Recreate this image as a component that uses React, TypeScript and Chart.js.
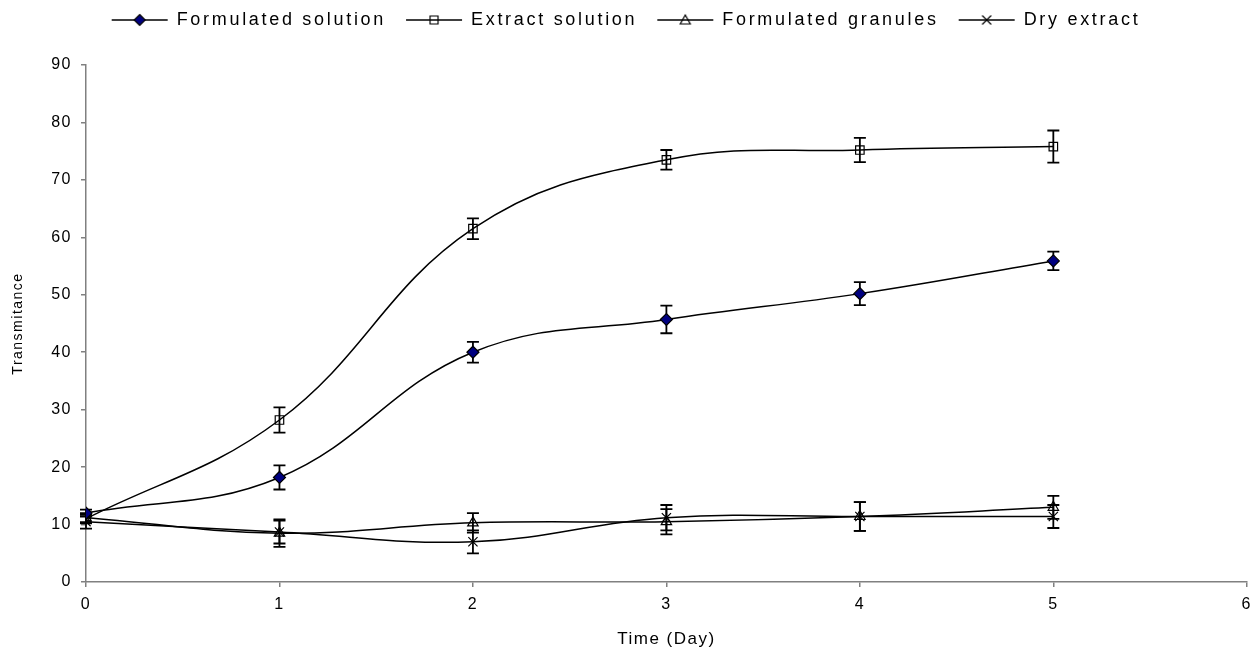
import React, { useEffect, useRef } from 'react';
import { Chart, registerables } from 'chart.js';

Chart.register(...registerables);

// ---- Data ----
const days = [0, 1, 2, 3, 4, 5];
const seriesNames = ['Formulated solution', 'Extract solution', 'Formulated granules', 'Dry extract'];

const formulatedSolution = [12.0, 18.2, 40.0, 45.7, 50.2, 55.9];
const formulatedSolutionErr = [0.6, 2.1, 1.8, 2.4, 2.0, 1.6];

const extractSolution = [11.0, 28.2, 61.5, 73.5, 75.2, 75.8];
const extractSolutionErr = [0.8, 2.2, 1.8, 1.7, 2.1, 2.8];

const formulatedGranules = [11.2, 8.5, 10.3, 10.5, 11.4, 13.0];
const formulatedGranulesErr = [0.8, 2.4, 1.7, 2.2, 2.5, 2.0];

const dryExtract = [10.5, 8.7, 7.0, 11.2, 11.4, 11.4];
const dryExtractErr = [1.2, 2.0, 2.0, 2.2, 2.5, 2.0];

const xMin = 0;
const xMax = 6;
const xStep = 1;
const yMin = 0;
const yMax = 90;
const yStep = 10;
const xTitle = 'Time (Day)';
const yTitle = 'Transmitance';

const FONT = "'Liberation Sans', Arial, sans-serif";
const AXIS_GREY = '#808080';

type MarkerKind = 'diamond' | 'square' | 'triangle' | 'cross';

function drawMarker(g: CanvasRenderingContext2D, kind: MarkerKind, cx: number, cy: number) {
  g.lineWidth = 1.2;
  g.strokeStyle = '#000';
  g.beginPath();
  if (kind === 'diamond') {
    g.moveTo(cx, cy - 5.5); g.lineTo(cx + 5.5, cy); g.lineTo(cx, cy + 5.5); g.lineTo(cx - 5.5, cy); g.closePath();
    g.fillStyle = '#000080'; g.fill(); g.stroke();
  } else if (kind === 'square') {
    g.rect(cx - 4, cy - 4, 8, 8); g.stroke();
  } else if (kind === 'triangle') {
    g.moveTo(cx, cy - 5); g.lineTo(cx + 5, cy + 4); g.lineTo(cx - 5, cy + 4); g.closePath(); g.stroke();
  } else {
    g.moveTo(cx - 4.5, cy - 4.5); g.lineTo(cx + 4.5, cy + 4.5);
    g.moveTo(cx + 4.5, cy - 4.5); g.lineTo(cx - 4.5, cy + 4.5); g.stroke();
  }
}

function makeIcon(kind: MarkerKind): HTMLCanvasElement {
  const c = document.createElement('canvas');
  c.width = 58; c.height = 16;
  const g = c.getContext('2d')!;
  g.strokeStyle = '#000';
  g.lineWidth = 1.5;
  g.beginPath(); g.moveTo(1, 8); g.lineTo(57, 8); g.stroke();
  drawMarker(g, kind, 29, 8);
  return c;
}

const errorBarPlugin = {
  id: 'errorBars',
  beforeDatasetsDraw(chart: any) {
    const ctx = chart.ctx;
    const xs = chart.scales.x;
    const ys = chart.scales.y;
    ctx.save();
    ctx.strokeStyle = '#000';
    ctx.lineWidth = 1.8;
    chart.data.datasets.forEach((ds: any) => {
      const errs: number[] = ds.errors;
      if (!errs) return;
      ds.data.forEach((pt: any, j: number) => {
        const px = xs.getPixelForValue(pt.x);
        const top = ys.getPixelForValue(pt.y + errs[j]);
        const bot = ys.getPixelForValue(pt.y - errs[j]);
        ctx.beginPath();
        ctx.moveTo(px, top); ctx.lineTo(px, bot);
        ctx.moveTo(px - 6, top); ctx.lineTo(px + 6, top);
        ctx.moveTo(px - 6, bot); ctx.lineTo(px + 6, bot);
        ctx.stroke();
      });
    });
    ctx.restore();
  },
};

const LEGEND_SPACING = '2.7px';

function patchLegend(chart: any) {
  const lg = chart.legend;
  if (!lg || lg.__patched) return;
  lg.__patched = true;
  const fit = lg.fit;
  const draw = lg.draw;
  lg.fit = function (this: any, ...args: any[]) {
    const c = this.ctx;
    const prev = c.letterSpacing;
    c.letterSpacing = LEGEND_SPACING;
    fit.apply(this, args);
    c.letterSpacing = prev;
    this.height = 65;
  };
  lg.draw = function (this: any, ...args: any[]) {
    const c = this.ctx;
    c.save();
    c.letterSpacing = LEGEND_SPACING;
    c.translate(2, -9);
    draw.apply(this, args);
    c.restore();
  };
}

const spacingPlugin = {
  id: 'spacing',
  beforeUpdate(chart: any) {
    chart.ctx.letterSpacing = '1.5px';
    patchLegend(chart);
  },
  beforeDraw(chart: any) {
    chart.ctx.letterSpacing = '1.5px';
  },
};

export default function App() {
  const ref = useRef<HTMLCanvasElement | null>(null);

  useEffect(() => {
    if (!ref.current) return;
    const toPts = (arr: number[]) => arr.map((v, i) => ({ x: days[i], y: v }));
    const kinds: MarkerKind[] = ['diamond', 'square', 'triangle', 'cross'];
    const icons = kinds.map(makeIcon);

    const base = {
      borderColor: '#000',
      borderWidth: 1.5,
      tension: 0.4,
      pointBorderColor: '#000',
      pointBorderWidth: 1.2,
      fill: false,
    };

    const chart = new Chart(ref.current, {
      type: 'line',
      data: {
        datasets: [
          { ...base, label: seriesNames[0], data: toPts(formulatedSolution), errors: formulatedSolutionErr,
            pointStyle: 'rectRot', pointRadius: 6, pointBackgroundColor: '#000080' } as any,
          { ...base, label: seriesNames[1], data: toPts(extractSolution), errors: extractSolutionErr,
            pointStyle: 'rect', pointRadius: 6, pointBackgroundColor: 'rgba(0,0,0,0)' } as any,
          { ...base, label: seriesNames[2], data: toPts(formulatedGranules), errors: formulatedGranulesErr,
            pointStyle: 'triangle', pointRadius: 6, pointBackgroundColor: 'rgba(0,0,0,0)' } as any,
          { ...base, label: seriesNames[3], data: toPts(dryExtract), errors: dryExtractErr,
            pointStyle: 'crossRot', pointRadius: 6.5, pointBackgroundColor: 'rgba(0,0,0,0)' } as any,
        ],
      },
      options: {
        responsive: false,
        animation: false,
        layout: { padding: { left: 0, right: 12, top: 0, bottom: 0 } },
        plugins: {
          tooltip: { enabled: false },
          legend: {
            position: 'top',
            labels: {
              usePointStyle: true,
              pointStyleWidth: 56,
              boxHeight: 18,
              padding: 20,
              color: '#000',
              font: { family: FONT, size: 18 },
              generateLabels: (ch: any) =>
                ch.data.datasets.map((ds: any, i: number) => ({
                  text: ds.label,
                  datasetIndex: i,
                  pointStyle: icons[i],
                  fillStyle: 'rgba(0,0,0,0)',
                  strokeStyle: 'rgba(0,0,0,0)',
                  lineWidth: 0,
                  fontColor: '#000',
                  hidden: false,
                })),
            },
          },
        },
        scales: {
          x: {
            type: 'linear',
            min: xMin,
            max: xMax,
            afterFit: (s: any) => { s.height = 74; },
            ticks: { stepSize: xStep, color: '#000', padding: 8, font: { family: FONT, size: 16 } },
            grid: { display: true, drawOnChartArea: false, drawTicks: true, tickLength: 5, color: AXIS_GREY, lineWidth: 1.5 },
            border: { display: true, color: AXIS_GREY, width: 1.5 },
            title: { display: true, text: xTitle, color: '#000', font: { family: FONT, size: 17 }, padding: { top: 4, bottom: 6 } },
          },
          y: {
            type: 'linear',
            min: yMin,
            max: yMax,
            afterFit: (s: any) => { s.width = 86; },
            ticks: { stepSize: yStep, color: '#000', padding: 9, font: { family: FONT, size: 16 } },
            grid: { display: true, drawOnChartArea: false, drawTicks: true, tickLength: 5, color: AXIS_GREY, lineWidth: 1.5 },
            border: { display: true, color: AXIS_GREY, width: 1.5 },
            title: { display: true, text: yTitle, color: '#000', font: { family: FONT, size: 14 }, padding: { top: 10, bottom: 4 } },
          },
        },
      } as any,
      plugins: [spacingPlugin, errorBarPlugin],
    });

    return () => chart.destroy();
  }, []);

  return (
    <div style={{ position: 'absolute', left: 0, top: 0, width: 1260, height: 656, background: '#fff' }}>
      <canvas ref={ref} width={1260} height={656} style={{ display: 'block', width: 1260, height: 656 }} />
    </div>
  );
}
